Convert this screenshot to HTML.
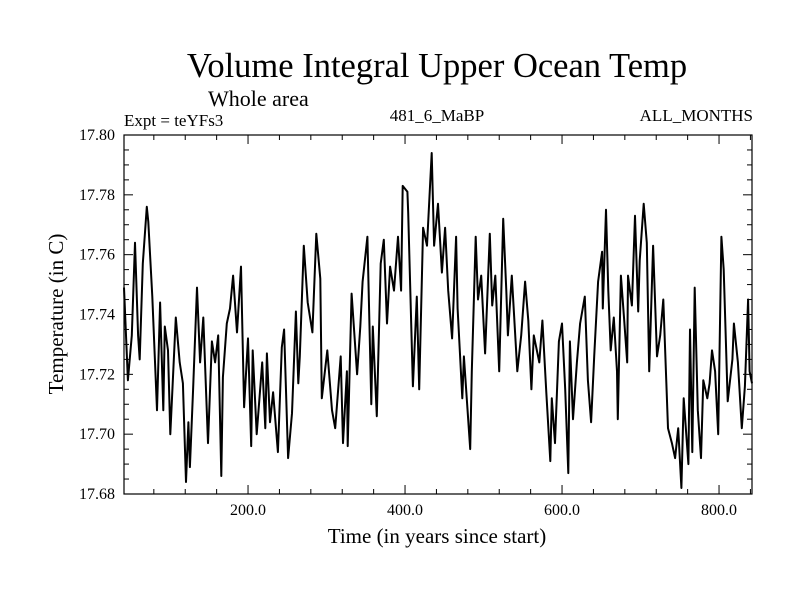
<!DOCTYPE html>
<html><head><meta charset="utf-8"><style>
body{margin:0;background:#fff;}
svg text{font-family:"Liberation Serif",serif;fill:#000;}
</style></head><body>
<svg id="chart" width="800" height="600" xmlns="http://www.w3.org/2000/svg">
<rect width="800" height="600" fill="#fff"/>
<text x="437" y="77" font-size="34.5" text-anchor="middle">Volume Integral Upper Ocean Temp</text>
<text x="208" y="106" font-size="22">Whole area</text>
<text x="124" y="126" font-size="17">Expt = teYFs3</text>
<text x="437" y="121" font-size="17" text-anchor="middle">481_6_MaBP</text>
<text x="753" y="121" font-size="17" text-anchor="end">ALL_MONTHS</text>
<text x="437" y="543" font-size="21" text-anchor="middle">Time (in years since start)</text>
<text transform="translate(63,314) rotate(-90)" font-size="21" text-anchor="middle">Temperature (in C)</text>
<g id="axes"></g>
<g id="plot"></g>
</svg>
<script>
const years=[42,47,52,56,60,62,66,71,73,78,84,88,92,94,98,101,104,108,113,117,121,124,126,130,135,139,143,149,154,158,162,166,168,173,177,181,186,191,195,200,204,206,211,218,222,224,228,232,238,243,246,251,256,261,264,266,271,276,282,287,292,294,301,307,311,318,321,326,327,332,339,343,346,352,357,359,364,369,373,377,381,386,391,395,397,403,404,410,415,418,423,428,434,437,442,447,451,455,460,465,467,473,475,483,485,490,493,497,502,508,511,515,520,525,529,531,536,543,548,553,557,561,564,571,575,580,585,587,591,596,600,604,608,610,614,619,623,629,633,637,641,646,651,652,656,659,662,666,670,671,675,679,683,684,689,693,697,699,704,708,711,716,721,725,729,735,740,744,748,752,755,761,763,766,769,773,777,780,785,788,791,795,799,803,806,811,817,819,824,829,833,837,839,842];
const temps=[17.749,17.718,17.733,17.764,17.733,17.725,17.757,17.776,17.771,17.746,17.708,17.744,17.708,17.736,17.728,17.700,17.717,17.739,17.724,17.717,17.684,17.704,17.689,17.715,17.749,17.724,17.739,17.697,17.731,17.724,17.733,17.686,17.719,17.737,17.742,17.753,17.734,17.756,17.709,17.732,17.696,17.728,17.700,17.724,17.702,17.727,17.704,17.714,17.694,17.729,17.735,17.692,17.707,17.741,17.717,17.726,17.763,17.744,17.734,17.767,17.752,17.712,17.728,17.708,17.702,17.726,17.697,17.721,17.696,17.747,17.720,17.736,17.751,17.766,17.710,17.736,17.706,17.757,17.765,17.737,17.756,17.748,17.766,17.748,17.783,17.781,17.774,17.716,17.746,17.715,17.769,17.763,17.794,17.763,17.777,17.754,17.769,17.748,17.732,17.766,17.742,17.712,17.726,17.695,17.721,17.766,17.745,17.753,17.727,17.767,17.743,17.753,17.721,17.772,17.748,17.733,17.753,17.721,17.733,17.751,17.738,17.715,17.733,17.724,17.738,17.714,17.691,17.712,17.697,17.731,17.737,17.715,17.687,17.731,17.705,17.724,17.737,17.746,17.718,17.704,17.726,17.751,17.761,17.742,17.775,17.748,17.728,17.739,17.721,17.705,17.753,17.739,17.724,17.753,17.743,17.773,17.741,17.758,17.777,17.764,17.721,17.763,17.726,17.733,17.745,17.702,17.697,17.692,17.702,17.682,17.712,17.690,17.735,17.694,17.749,17.708,17.692,17.718,17.712,17.717,17.728,17.721,17.700,17.766,17.755,17.711,17.725,17.737,17.724,17.702,17.716,17.745,17.721,17.717];
const xTickLabels=["200.0","400.0","600.0","800.0"];
const xTickValues=[200,400,600,800];
const yTickLabels=["17.68","17.70","17.72","17.74","17.76","17.78","17.80"];
const yTickValues=[17.68,17.70,17.72,17.74,17.76,17.78,17.80];

const L=124,R=752,T=135,B=494,X0=42,X1=842,Y0=17.68,Y1=17.80;
const NS="http://www.w3.org/2000/svg";
function sx(v){return L+(v-X0)/(X1-X0)*(R-L);}
function sy(v){return B-(v-Y0)/(Y1-Y0)*(B-T);}
function mk(tag,attrs,parent){const e=document.createElementNS(NS,tag);for(const k in attrs)e.setAttribute(k,attrs[k]);parent.appendChild(e);return e;}
const axes=document.getElementById('axes'),plot=document.getElementById('plot');
const frame=mk('rect',{x:L,y:T,width:R-L,height:B-T,fill:'none',stroke:'#000','stroke-width':1.2},axes);


for(let v=80;v<X1;v+=40){
  const major=v%200===0;const len=major?9:5;const x=sx(v);
  const t1=mk('line',{x1:x,y1:B,x2:x,y2:B-len,stroke:'#000'},axes);
  
  
  const t2=mk('line',{x1:x,y1:T,x2:x,y2:T+len,stroke:'#000'},axes);
  
  
}
xTickValues.forEach((v,i)=>{
  const t=mk('text',{x:sx(v),y:515,'font-size':16,'text-anchor':'middle'},axes);t.textContent=xTickLabels[i];
  
  
});
for(let k=1;k<24;k++){
  const v=Y0+k*0.005;const major=k%4===0;const len=major?9:5;const y=sy(v);
  const t1=mk('line',{x1:L,y1:y,x2:L+len,y2:y,stroke:'#000'},axes);
  
  
  const t2=mk('line',{x1:R,y1:y,x2:R-len,y2:y,stroke:'#000'},axes);
  
  
}
yTickValues.forEach((v,i)=>{
  const t=mk('text',{x:115,y:sy(v)+5,'font-size':16,'text-anchor':'end'},axes);t.textContent=yTickLabels[i];
  
  
});
let d='';
years.forEach((yr,i)=>{d+=(i?'L':'M')+sx(yr).toFixed(1)+','+sy(temps[i]).toFixed(1);});
const line=mk('path',{d:d,fill:'none',stroke:'#000','stroke-width':2,'stroke-linejoin':'round'},plot);


</script>
</body></html>
